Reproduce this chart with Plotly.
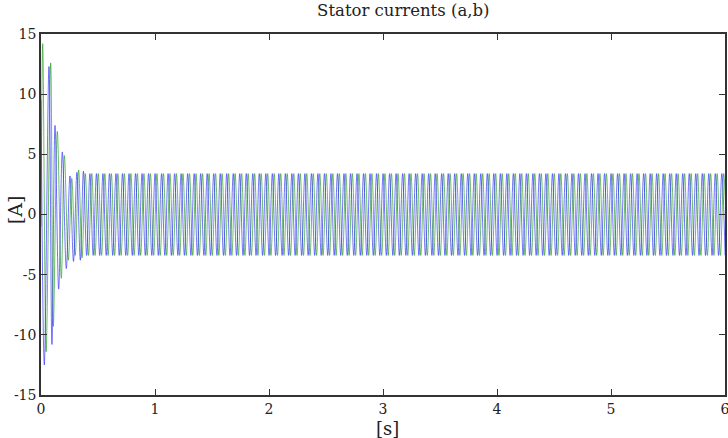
import numpy as np
import plotly.graph_objects as go

# Start-up transient: successive current extrema (time [s], current [A])
t_a_start = [0.000, 0.029, 0.070, 0.096, 0.123, 0.155, 0.187, 0.222, 0.254, 0.285, 0.315, 0.345, 0.372]
i_a_start = [9.5, -12.5, 12.3, -10.8, 7.4, -6.2, 5.2, -4.5, 3.2, -3.9, 3.5, -3.8, 3.6]

t_b_start = [0.000, 0.015, 0.045, 0.085, 0.108, 0.143, 0.178, 0.205, 0.240, 0.270, 0.300, 0.330, 0.360]
i_b_start = [-1.0, 14.2, -11.4, 12.6, -9.3, 6.9, -5.3, 4.9, -3.8, 3.0, -3.4, 3.7, -3.6]

# Steady state: peak current and supply frequency
i_peak = 3.4          # [A]
f_supply = 17.5       # [Hz]
t_end = 6.0           # [s]

x_ticks = [0, 1, 2, 3, 4, 5, 6]
y_ticks = [-15, -10, -5, 0, 5, 10, 15]
y_tick_text = ["-15", "-10", "-5", "0", "5", "10", "15"]


def phase_extrema(t_start, i_start):
    half = 0.5 / f_supply
    t_ss = np.arange(t_start[-1] + half, t_end + half, half)
    sign = -np.sign(i_start[-1])
    i_ss = i_peak * sign * np.where(np.arange(len(t_ss)) % 2 == 0, 1, -1)
    return np.concatenate([t_start, t_ss]), np.concatenate([i_start, i_ss])


ta, ia = phase_extrema(t_a_start, i_a_start)
tb, ib = phase_extrema(t_b_start, i_b_start)

fig = go.Figure()
fig.add_trace(go.Scatter(x=tb, y=ib, mode="lines",
                         line=dict(color="rgba(30,150,30,0.65)", width=1, shape="spline"), name="i_b"))
fig.add_trace(go.Scatter(x=ta, y=ia, mode="lines",
                         line=dict(color="rgba(40,40,255,0.65)", width=1, shape="spline"), name="i_a"))

serif = "DejaVu Serif"
tick_font = dict(family=serif, size=14, color="#222")
fig.update_layout(
    width=728, height=438,
    margin=dict(l=41, r=3, t=34, b=43),
    paper_bgcolor="white", plot_bgcolor="white",
    showlegend=False,
    title=dict(text="Stator currents (a,b)", x=0.554, xanchor="center", y=0.99, yanchor="top",
               font=dict(family=serif, size=16.5, color="#222")),
    font=tick_font,
    annotations=[
        dict(text="[s]", xref="paper", yref="paper", x=0.506, y=-0.092, xanchor="center", yanchor="middle",
             showarrow=False, font=dict(family=serif, size=18, color="#222")),
        dict(text="[A]", xref="paper", yref="paper", x=-0.038, y=0.512, xanchor="center", yanchor="middle",
             textangle=-90, showarrow=False, font=dict(family=serif, size=19, color="#222")),
    ],
)
fig.update_xaxes(range=[0, 6], tickvals=x_ticks, ticks="inside", ticklen=6, tickcolor="#333",
                 showline=True, linecolor="#333", linewidth=1.5, mirror="ticks", showgrid=False,
                 zeroline=False, automargin=False, ticklabeloverflow="allow", tickfont=tick_font)
fig.update_yaxes(range=[-15, 15], tickvals=y_ticks, ticktext=y_tick_text, ticks="inside", ticklen=6,
                 tickcolor="#333", showline=True, linecolor="#333", linewidth=1.5, mirror="ticks",
                 showgrid=False, zeroline=False, automargin=False, tickfont=tick_font)

fig.write_html("out.html")
